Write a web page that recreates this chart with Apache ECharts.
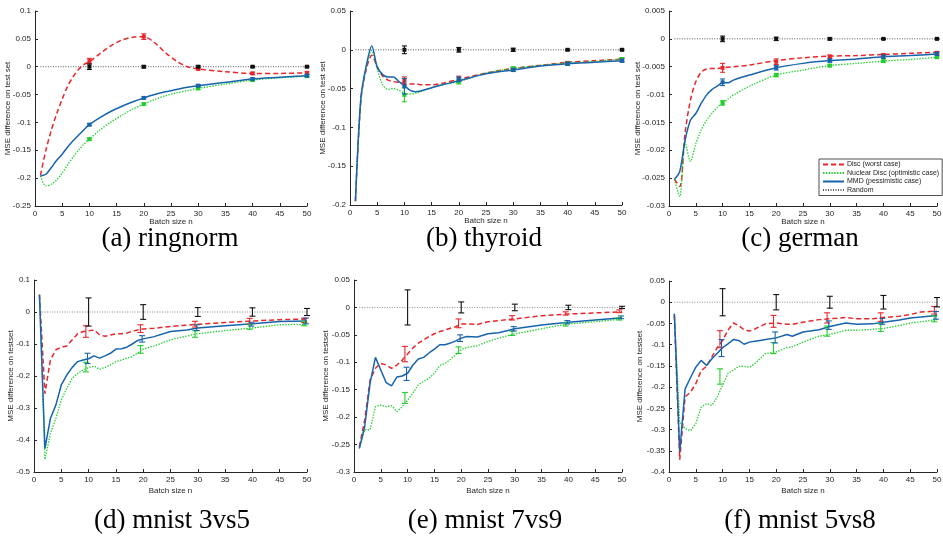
<!DOCTYPE html>
<html><head><meta charset="utf-8">
<script src="https://cdn.jsdelivr.net/npm/echarts@6/dist/echarts.min.js"></script>
<style>html,body{margin:0;padding:0;background:#fff}#c{width:943px;height:537px}</style>
</head><body><div id="c"></div>
<script>
// ---------- (a) ringnorm ----------
const aN    = [1,2,3,4,5,6,7,8,9,10,12,14,16,18,20,22,24,26,28,30,35,40,45,50];
const aDisc = [-0.195,-0.150,-0.114,-0.084,-0.058,-0.035,-0.018,-0.005,0.004,0.009,0.024,0.038,0.048,0.053,0.054,0.043,0.025,0.010,0.000,-0.004,-0.009,-0.012,-0.012,-0.011];
const aNuc  = [-0.196,-0.214,-0.211,-0.203,-0.191,-0.176,-0.162,-0.150,-0.139,-0.130,-0.113,-0.099,-0.087,-0.076,-0.067,-0.059,-0.052,-0.047,-0.043,-0.039,-0.031,-0.024,-0.020,-0.017];
const aMmd  = [-0.196,-0.193,-0.181,-0.168,-0.157,-0.144,-0.133,-0.123,-0.113,-0.104,-0.091,-0.080,-0.071,-0.063,-0.056,-0.050,-0.045,-0.041,-0.037,-0.034,-0.028,-0.022,-0.019,-0.016];
// ---------- (b) thyroid ----------
const bN    = [1,2,3,4,5,6,7,8,9,10,11,12,13,15,17,20,25,30,35,40,45,50];
const bDisc = [-0.195,-0.065,-0.025,-0.007,-0.022,-0.034,-0.039,-0.041,-0.042,-0.043,-0.044,-0.044,-0.045,-0.045,-0.043,-0.038,-0.030,-0.024,-0.020,-0.016,-0.014,-0.012];
const bNuc  = [-0.195,-0.065,-0.022,-0.001,-0.025,-0.045,-0.051,-0.050,-0.052,-0.056,-0.057,-0.056,-0.054,-0.049,-0.045,-0.041,-0.030,-0.024,-0.020,-0.017,-0.015,-0.012];
const bMmd  = [-0.195,-0.062,-0.020,0.005,-0.022,-0.032,-0.035,-0.035,-0.041,-0.046,-0.052,-0.054,-0.053,-0.049,-0.045,-0.040,-0.031,-0.026,-0.021,-0.018,-0.016,-0.014];
// ---------- (c) german ----------
const cN    = [1,2,3,4,5,6,7,8,9,10,11,12,15,20,25,30,35,40,45,50];
const cDisc = [-0.0252,-0.0265,-0.0169,-0.0110,-0.0077,-0.0060,-0.0054,-0.0053,-0.0053,-0.0052,-0.0051,-0.0050,-0.0047,-0.0039,-0.0034,-0.0031,-0.0030,-0.0028,-0.0026,-0.0024];
const cNuc  = [-0.0252,-0.0283,-0.0185,-0.0220,-0.0188,-0.0164,-0.0146,-0.0134,-0.0123,-0.0115,-0.0108,-0.0101,-0.0085,-0.0065,-0.0056,-0.0048,-0.0044,-0.0040,-0.0037,-0.0033];
const cMmd  = [-0.0252,-0.0238,-0.0182,-0.0146,-0.0134,-0.0116,-0.0101,-0.0091,-0.0085,-0.0079,-0.0079,-0.0074,-0.0065,-0.0052,-0.0044,-0.0039,-0.0036,-0.0032,-0.0030,-0.0027];
// ---------- (d) mnist 3vs5 ----------
const dN    = [1,2,3,4,5,6,7,8,9,10,11,12,13,14,15,16,17,18,19,20,22,25,28,30,35,40,45,50];
const dDisc = [0.054,-0.255,-0.150,-0.118,-0.110,-0.106,-0.087,-0.068,-0.061,-0.059,-0.056,-0.071,-0.076,-0.072,-0.068,-0.068,-0.066,-0.060,-0.056,-0.053,-0.051,-0.045,-0.041,-0.038,-0.033,-0.028,-0.024,-0.022];
const dNuc  = [0.054,-0.461,-0.380,-0.333,-0.275,-0.239,-0.207,-0.192,-0.181,-0.174,-0.169,-0.179,-0.173,-0.165,-0.155,-0.150,-0.145,-0.139,-0.128,-0.116,-0.106,-0.087,-0.075,-0.068,-0.058,-0.050,-0.040,-0.038];
const dMmd  = [0.054,-0.427,-0.333,-0.291,-0.228,-0.197,-0.173,-0.155,-0.150,-0.146,-0.137,-0.144,-0.137,-0.129,-0.116,-0.115,-0.110,-0.100,-0.089,-0.084,-0.077,-0.061,-0.056,-0.050,-0.043,-0.037,-0.030,-0.028];
// ---------- (e) mnist 7vs9 ----------
const eN    = [1,2,3,4,5,6,7,8,9,10,11,12,13,14,15,16,17,18,19,20,21,23,25,27,30,35,40,45,50];
const eDisc = [-0.254,-0.205,-0.132,-0.111,-0.102,-0.105,-0.111,-0.105,-0.096,-0.085,-0.074,-0.065,-0.059,-0.053,-0.048,-0.044,-0.041,-0.038,-0.035,-0.030,-0.030,-0.031,-0.026,-0.024,-0.021,-0.015,-0.012,-0.010,-0.008];
const eNuc  = [-0.257,-0.223,-0.223,-0.181,-0.178,-0.181,-0.179,-0.190,-0.181,-0.169,-0.156,-0.141,-0.135,-0.129,-0.120,-0.106,-0.102,-0.095,-0.086,-0.077,-0.073,-0.070,-0.062,-0.056,-0.048,-0.039,-0.030,-0.026,-0.021];
const eMmd  = [-0.257,-0.217,-0.138,-0.091,-0.114,-0.137,-0.143,-0.127,-0.125,-0.120,-0.105,-0.094,-0.091,-0.083,-0.076,-0.068,-0.068,-0.065,-0.061,-0.056,-0.053,-0.054,-0.048,-0.046,-0.039,-0.032,-0.027,-0.023,-0.019];
// ---------- (f) mnist 5vs8 ----------
const fN    = [1,2,3,4,5,6,7,8,9,10,11,12,13,14,15,16,17,18,20,22,23,25,28,30,33,35,38,40,43,45,47,50];
const fDisc = [-0.031,-0.371,-0.223,-0.212,-0.192,-0.161,-0.151,-0.129,-0.107,-0.090,-0.066,-0.049,-0.055,-0.065,-0.068,-0.063,-0.057,-0.051,-0.049,-0.052,-0.052,-0.047,-0.041,-0.039,-0.036,-0.039,-0.039,-0.036,-0.033,-0.029,-0.023,-0.021];
const fNuc  = [-0.027,-0.282,-0.298,-0.303,-0.286,-0.247,-0.239,-0.243,-0.223,-0.196,-0.168,-0.160,-0.151,-0.151,-0.153,-0.145,-0.133,-0.121,-0.117,-0.107,-0.105,-0.094,-0.080,-0.076,-0.066,-0.066,-0.064,-0.062,-0.055,-0.049,-0.046,-0.041];
const fMmd  = [-0.027,-0.353,-0.204,-0.178,-0.153,-0.137,-0.149,-0.133,-0.120,-0.107,-0.098,-0.088,-0.090,-0.099,-0.094,-0.092,-0.090,-0.088,-0.084,-0.076,-0.080,-0.070,-0.065,-0.057,-0.049,-0.052,-0.051,-0.047,-0.042,-0.037,-0.035,-0.031];

// ---------- Random baseline (mean 0) ----------
const rndN    = [1,10,20,30,40,50];
const rndMean = [0,0,0,0,0,0];

// ---------- error bars: x positions, means, half-widths ----------
const ebX   = [10,20,30,40,50];
const ebXL  = [9.5,19.5,29.5,39.5,49.5];
const ebXM  = [9.8,19.8,29.8,39.8,49.8];
const aErr = {
  disc: {x: ebX, m: [0.010,0.054,-0.004,-0.012,-0.011], h: [0.005,0.005,0.002,0.002,0.002]},
  nuc:  {x: ebX, m: [-0.130,-0.067,-0.039,-0.024,-0.017], h: [0.002,0.002,0.002,0.002,0.002]},
  mmd:  {x: ebX, m: [-0.104,-0.056,-0.034,-0.022,-0.016], h: [0.002,0.002,0.002,0.002,0.002]},
  rnd:  {x: ebX, m: [0,0,0,0,0], h: [0.005,0.002,0.002,0.001,0.001]}
};
const bErr = {
  disc: {x: ebX, m: [-0.040,-0.037,-0.025,-0.017,-0.013], h: [0.005,0.003,0.002,0.002,0.002]},
  nuc:  {x: ebX, m: [-0.058,-0.041,-0.024,-0.018,-0.012], h: [0.009,0.003,0.002,0.002,0.002]},
  mmd:  {x: ebX, m: [-0.047,-0.038,-0.026,-0.018,-0.014], h: [0.010,0.003,0.002,0.002,0.002]},
  rnd:  {x: ebX, m: [0,0,0,0,0], h: [0.005,0.003,0.002,0.001,0.001]}
};
const cErr = {
  disc: {x: ebX, m: [-0.0052,-0.0041,-0.0032,-0.0029,-0.0025], h: [0.0008,0.0005,0.0003,0.0002,0.0002]},
  nuc:  {x: ebX, m: [-0.0115,-0.0065,-0.0048,-0.0040,-0.0033], h: [0.0004,0.0003,0.0002,0.0002,0.0002]},
  mmd:  {x: ebX, m: [-0.0078,-0.0052,-0.0039,-0.0032,-0.0027], h: [0.0006,0.0004,0.0003,0.0003,0.0003]},
  rnd:  {x: ebX, m: [0,0,0,0,0], h: [0.0005,0.0003,0.0002,0.0001,0.0001]}
};
const dErr = {
  disc: {x: ebXL, m: [-0.061,-0.052,-0.038,-0.029,-0.026], h: [0.018,0.012,0.009,0.009,0.007]},
  nuc:  {x: ebXL, m: [-0.172,-0.117,-0.069,-0.047,-0.036], h: [0.015,0.012,0.010,0.007,0.007]},
  mmd:  {x: ebXM, m: [-0.145,-0.084,-0.049,-0.038,-0.028], h: [0.016,0.010,0.009,0.006,0.009]},
  rnd:  {x: ebX, m: [0,0,0,0,0], h: [0.044,0.023,0.014,0.013,0.011]}
};
const eErr = {
  disc: {x: ebXL, m: [-0.085,-0.029,-0.019,-0.011,-0.007], h: [0.014,0.008,0.004,0.003,0.0025]},
  nuc:  {x: ebXL, m: [-0.165,-0.078,-0.047,-0.031,-0.021], h: [0.010,0.006,0.004,0.003,0.002]},
  mmd:  {x: ebXM, m: [-0.121,-0.056,-0.039,-0.027,-0.018], h: [0.012,0.006,0.004,0.003,0.0025]},
  rnd:  {x: ebX, m: [0,0,0,0,0], h: [0.032,0.010,0.006,0.004,0.002]}
};
const fErr = {
  disc: {x: ebXL, m: [-0.087,-0.045,-0.037,-0.035,-0.019], h: [0.020,0.014,0.012,0.010,0.009]},
  nuc:  {x: ebXL, m: [-0.175,-0.108,-0.068,-0.060,-0.039], h: [0.018,0.013,0.012,0.009,0.007]},
  mmd:  {x: ebXM, m: [-0.108,-0.083,-0.054,-0.045,-0.031], h: [0.020,0.013,0.010,0.007,0.009]},
  rnd:  {x: ebX, m: [0,0,0,0,0], h: [0.032,0.018,0.014,0.016,0.011]}
};

// ---------- axis ranges & labels ----------
const yMin = [-0.25,-0.2,-0.03,-0.5,-0.3,-0.4];
const yMax = [0.1,0.05,0.005,0.1,0.05,0.05];
const yInt = [0.05,0.05,0.005,0.1,0.05,0.05];
const captions = ['(a) ringnorm','(b) thyroid','(c) german','(d) mnist 3vs5','(e) mnist 7vs9','(f) mnist 5vs8'];
const yNames = ['MSE difference on test set','MSE difference on test set','MSE difference on test set',
                'MSE difference on testset','MSE difference on testset','MSE difference on testset'];
const names = ['Disc (worst case)','Nuclear Disc (optimistic case)','MMD (pessimistic case)','Random'];

// ---------- styling / layout ----------
const RED = '#e8262b', GREEN = '#1fcf2a', BLUE = '#1764ad', BLACK = '#111';
const grids = [
  {left:35, top:11, width:272, height:195},
  {left:350, top:11, width:272, height:194},
  {left:669, top:11, width:268, height:195},
  {left:34, top:280, width:273, height:192},
  {left:354, top:280, width:268, height:192},
  {left:669, top:281, width:268, height:191}
];
const yGaps = [23,23,27,19,24,25];
const xGaps = [12,12,12,15,15,15];
const capPos = [[170,239],[484,239],[800,239],[172,521],[485,521],[800,521]];

const panels = [
  {n:aN, disc:aDisc, nuc:aNuc, mmd:aMmd, err:aErr, sq:true},
  {n:bN, disc:bDisc, nuc:bNuc, mmd:bMmd, err:bErr, sq:true},
  {n:cN, disc:cDisc, nuc:cNuc, mmd:cMmd, err:cErr, sq:true},
  {n:dN, disc:dDisc, nuc:dNuc, mmd:dMmd, err:dErr, sq:false},
  {n:eN, disc:eDisc, nuc:eNuc, mmd:eMmd, err:eErr, sq:false},
  {n:fN, disc:fDisc, nuc:fNuc, mmd:fMmd, err:fErr, sq:false}
];

const AX = '#262626';
const xAxes = [], yAxes = [], series = [];
grids.forEach((g, i) => {
  g.outerBoundsMode = 'none';
  xAxes.push({
    type:'value', gridIndex:i, min:0, max:50, interval:5,
    axisLine:{show:true, onZero:false, lineStyle:{color:AX, width:1}},
    axisTick:{show:true, inside:true, length:3, lineStyle:{color:AX}},
    axisLabel:{fontSize:8, color:AX, margin:4, fontFamily:'Liberation Sans'},
    splitLine:{show:false},
    name:'Batch size n', nameLocation:'middle', nameGap:xGaps[i], nameMoveOverlap:false,
    nameTextStyle:{fontSize:8, color:AX, fontFamily:'Liberation Sans', verticalAlign:'top'}
  });
  yAxes.push({
    type:'value', gridIndex:i, min:yMin[i], max:yMax[i], interval:yInt[i],
    axisLine:{show:true, onZero:false, lineStyle:{color:AX, width:1}},
    axisTick:{show:true, inside:true, length:3, lineStyle:{color:AX}},
    axisLabel:{fontSize:8, color:AX, margin:4, fontFamily:'Liberation Sans'},
    splitLine:{show:false},
    name:yNames[i], nameLocation:'middle', nameGap:yGaps[i], nameRotate:90, nameMoveOverlap:false,
    nameTextStyle:{fontSize:8, color:AX, fontFamily:'Liberation Sans'}
  });
});

function lineSeries(i, name, xs, ys, color, type, width, z) {
  return {
    type:'line', name, xAxisIndex:i, yAxisIndex:i,
    data: xs.map((x, k) => [x, ys[k]]),
    symbol:'none', showSymbol:false, smooth: i < 3 ? 0.3 : false,
    lineStyle:{color, width, type}, itemStyle:{color}, z, silent:true, animation:false
  };
}
function errSeries(i, e, color, sq, capHalf) {
  return {
    type:'custom', xAxisIndex:i, yAxisIndex:i, silent:true, animation:false, z:5,
    data: e.x.map((x, k) => [x, e.m[k], e.h[k]]),
    encode:{x:0, y:1},
    renderItem(params, api) {
      const x = api.value(0), m = api.value(1), h = api.value(2);
      const t = api.coord([x, m + h]), b = api.coord([x, m - h]), c = api.coord([x, m]);
      const st = {stroke:color, lineWidth:1.1};
      const ch = [
        {type:'line', shape:{x1:t[0], y1:t[1], x2:b[0], y2:b[1]}, style:st},
        {type:'line', shape:{x1:t[0]-capHalf, y1:t[1], x2:t[0]+capHalf, y2:t[1]}, style:st},
        {type:'line', shape:{x1:b[0]-capHalf, y1:b[1], x2:b[0]+capHalf, y2:b[1]}, style:st}
      ];
      if (sq) ch.push({type:'rect', shape:{x:c[0]-2, y:c[1]-2, width:4, height:4}, style:{fill:color}});
      return {type:'group', children:ch};
    }
  };
}

panels.forEach((p, i) => {
  const top = i < 3;
  series.push(lineSeries(i, names[0], p.n, p.disc, RED, [5,3], 1.5, 2));
  series.push(lineSeries(i, names[1], p.n, p.nuc, GREEN, [1.4,1.4], 1.3, 3));
  series.push(lineSeries(i, names[2], p.n, p.mmd, BLUE, 'solid', 1.5, 4));
  series.push({
    type:'line', name:names[3], xAxisIndex:i, yAxisIndex:i,
    data: rndN.map((x, k) => [x, rndMean[k]]), symbol:'none', showSymbol:false,
    lineStyle:{color: top ? '#555' : '#888', width:1, type:[1,1.5]}, itemStyle:{color:'#888'},
    z:1, silent:true, animation:false
  });
  const cap = top ? 2.5 : 3;
  series.push(errSeries(i, p.err.disc, RED, p.sq, cap));
  series.push(errSeries(i, p.err.nuc, GREEN, p.sq, cap));
  series.push(errSeries(i, p.err.mmd, BLUE, p.sq, cap));
  series.push(errSeries(i, p.err.rnd, BLACK, p.sq, cap));
});

const graphics = captions.map((t, i) => ({
  type:'text', x:capPos[i][0], y:capPos[i][1], silent:true,
  style:{text:t, font:'27px "Liberation Serif"', fill:'#000', align:'center', verticalAlign:'middle',
         textAlign:'center', textVerticalAlign:'middle'}
}));

const chart = echarts.init(document.getElementById('c'), null, {renderer:'canvas'});
chart.setOption({
  animation:false,
  backgroundColor:'#fff',
  grid: grids,
  xAxis: xAxes,
  yAxis: yAxes,
  series,
  graphic: graphics,
  legend: {
    data: names, orient:'vertical', left:819, top:159,
    padding:[2,3,2,3], itemWidth:21, itemHeight:8, itemGap:1.5,
    itemStyle:{opacity:0},
    backgroundColor:'#fff', borderColor:'#222', borderWidth:0.8, borderRadius:0,
    textStyle:{fontSize:7, color:'#222', fontFamily:'Liberation Sans', padding:[0,0,0,-2]},
    selectedMode:false
  }
});
</script></body></html>
